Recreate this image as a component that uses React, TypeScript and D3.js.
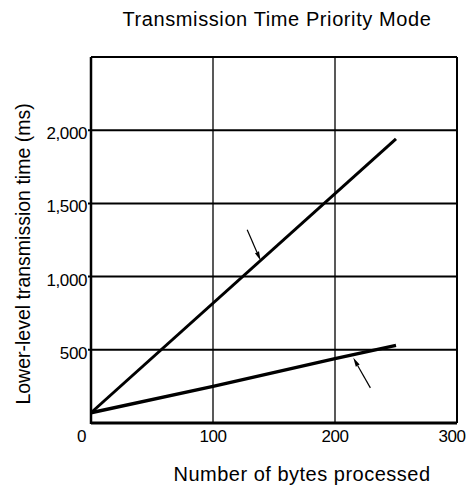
import * as d3 from "d3";

// values
const xTicks = [0, 100, 200, 300];
const yTicks = [500, 1000, 1500, 2000];
const yTickLabels = ["500", "1,000", "1,500", "2,000"];

const upperBytes = [0, 250];
const upperTime = [70, 1940];

const lowerBytes = [0, 100, 200, 250];
const lowerTime = [70, 250, 440, 530];

// pointer arrows: [tail, tip] in data units
const upperArrow: [number, number][] = [[128, 1320], [139, 1110]];
const lowerArrow: [number, number][] = [[229, 240], [215, 445]];

const title = "Transmission Time Priority Mode";
const xTitle = "Number of bytes processed";
const yTitle = "Lower-level transmission time (ms)";

const W = 467;
const H = 487;
const margin = { top: 57, right: 10, bottom: 64, left: 91 };
const font = "'Liberation Sans', Arial, Helvetica, sans-serif";

export default function App() {
  const x = d3.scaleLinear().domain([0, 300]).range([margin.left, W - margin.right]);
  const y = d3.scaleLinear().domain([0, 2500]).range([H - margin.bottom, margin.top]);

  const line = d3
    .line<[number, number]>()
    .x((d) => x(d[0]))
    .y((d) => y(d[1]));

  const upper = upperBytes.map((b, i) => [b, upperTime[i]] as [number, number]);
  const lower = lowerBytes.map((b, i) => [b, lowerTime[i]] as [number, number]);

  const arrow = (pts: [number, number][], key: string) => {
    const [t0, t1] = pts;
    const x0 = x(t0[0]), y0 = y(t0[1]);
    const x1 = x(t1[0]), y1 = y(t1[1]);
    const ang = Math.atan2(y1 - y0, x1 - x0);
    const len = 9, half = 2.2;
    const bx = x1 - len * Math.cos(ang), by = y1 - len * Math.sin(ang);
    const px = -Math.sin(ang) * half, py = Math.cos(ang) * half;
    return (
      <g key={key}>
        <line x1={x0} y1={y0} x2={bx} y2={by} stroke="#000" strokeWidth={1.2} />
        <path d={`M${x1},${y1}L${bx + px},${by + py}L${bx - px},${by - py}Z`} fill="#000" />
      </g>
    );
  };

  const x0 = x(0), x3 = x(300), yb = y(0), yt = y(2500);

  return (
    <svg
      width={W}
      height={H}
      style={{ position: "absolute", left: 0, top: 0, background: "#fff" }}
      fontFamily={font}
    >
      <rect x={0} y={0} width={W} height={H} fill="#fff" />

      {/* vertical grid */}
      {xTicks.slice(1, 3).map((t) => (
        <line key={"vx" + t} x1={x(t)} x2={x(t)} y1={yt} y2={yb} stroke="#222" strokeWidth={1.5} />
      ))}
      {/* horizontal grid */}
      {yTicks.map((t) => (
        <line key={"hy" + t} x1={x0 - 3} x2={x3} y1={y(t)} y2={y(t)} stroke="#000" strokeWidth={2} />
      ))}

      {/* frame */}
      <line x1={x0} x2={x3} y1={yt} y2={yt} stroke="#000" strokeWidth={2} />
      <line x1={x3} x2={x3} y1={yt} y2={yb} stroke="#000" strokeWidth={2} />
      <line x1={x0} x2={x0} y1={yt} y2={yb + 1} stroke="#000" strokeWidth={2.5} />
      <line x1={x0} x2={x3} y1={yb} y2={yb} stroke="#000" strokeWidth={3} />

      {/* series */}
      <path d={line(upper) || ""} fill="none" stroke="#000" strokeWidth={3} />
      <path d={line(lower) || ""} fill="none" stroke="#000" strokeWidth={3.4} />

      {arrow(upperArrow, "a1")}
      {arrow(lowerArrow, "a2")}

      {/* y tick labels */}
      {yTicks.map((t, i) => (
        <text key={"yl" + t} x={x0 - 4} y={y(t) + 9} textAnchor="end" fontSize={17} letterSpacing={-0.4}>
          {yTickLabels[i]}
        </text>
      ))}

      {/* x tick labels */}
      {xTicks.map((t, i) => {
        const dx = i === 0 ? -9.5 : i === xTicks.length - 1 ? -5 : 0;
        return (
          <text key={"xl" + t} x={x(t) + dx} y={yb + 19} textAnchor="middle" fontSize={17} letterSpacing={-0.4}>
            {t}
          </text>
        );
      })}

      {/* titles */}
      <text x={277} y={26} textAnchor="middle" fontSize={20} letterSpacing={0.6}>
        {title}
      </text>
      <text x={302} y={481} textAnchor="middle" fontSize={20} letterSpacing={0.5}>
        {xTitle}
      </text>
      <text
        transform={`translate(30,254) rotate(-90)`}
        textAnchor="middle"
        fontSize={19.5}
      >
        {yTitle}
      </text>
    </svg>
  );
}
